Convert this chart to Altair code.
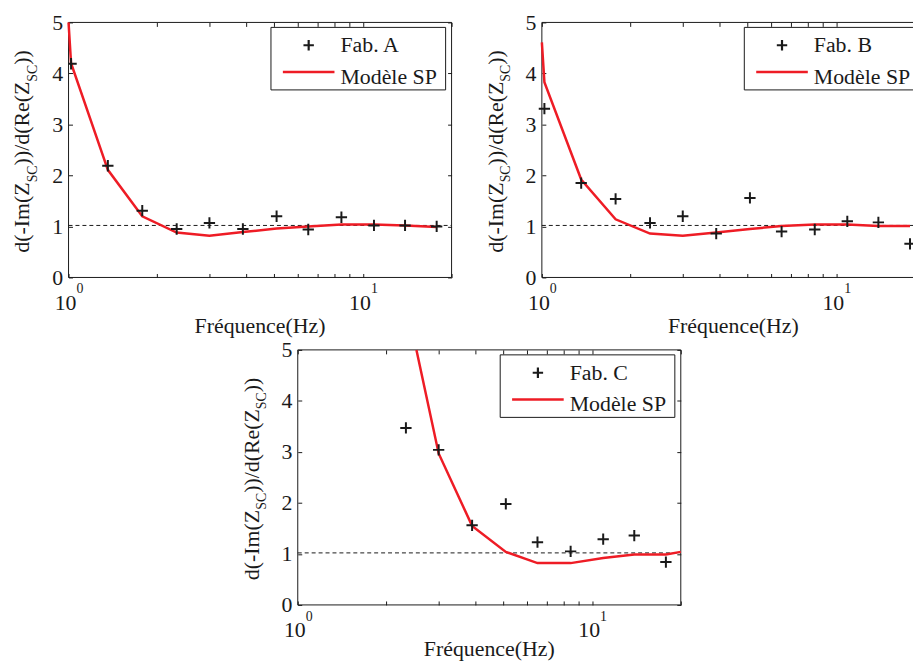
import math
import altair as alt
import pandas as pd

# ---------------- data ----------------
FREQ = [1.02, 1.36, 1.78, 2.33, 3.01, 3.91, 5.09, 6.52, 8.45, 10.9, 13.9, 17.8]

A_MEAS = [4.19, 2.19, 1.31, 0.95, 1.07, 0.95, 1.20, 0.94, 1.18, 1.02, 1.02, 1.00]
A_MODEL_F = [1.0] + FREQ
A_MODEL = [5.0, 4.20, 2.11, 1.20, 0.88, 0.82, 0.89, 0.96, 1.00, 1.04, 1.04, 1.02, 0.99]

B_MEAS = [3.31, 1.85, 1.54, 1.07, 1.20, 0.86, 1.56, 0.90, 0.94, 1.10, 1.08, 0.66]
B_MODEL_F = [1.0] + FREQ
B_MODEL = [4.61, 3.83, 1.92, 1.14, 0.86, 0.82, 0.88, 0.95, 1.01, 1.04, 1.04, 1.01, 1.01]

C_FREQ = FREQ[3:]
C_MEAS = [3.47, 3.04, 1.56, 1.98, 1.23, 1.05, 1.29, 1.36, 0.84]
C_MODEL_F = [2.53] + FREQ[4:] + [20.0]
C_MODEL = [5.0, 2.97, 1.55, 1.04, 0.82, 0.82, 0.92, 0.99, 0.99, 1.04]

REF_LEVEL = 1.02
Y_TICKS = [0, 1, 2, 3, 4, 5]
X_TICKS = [1, 2, 3, 4, 5, 6, 7, 8, 9, 10, 20]
SUP_F = [1, 10]
SUP_T = ["0", "1"]
LEG_MEAS = ["Fab. A", "Fab. B", "Fab. C"]
LEG_MODEL = "Modèle SP"
X_TITLE = "Fréquence(Hz)"

# ---------------- style / layout ----------------
FONT = "Liberation Serif"
INK = "#1a1a1a"
RED = "#ee1c25"
H = 257          # panel plot height
W = 386          # panel plot width
W_B = 374        # right panel is cut by the page edge
WT = 851         # whole drawing area
HT = 587
XMAX = 20.0
DECADE = W / math.log10(XMAX)
XMAX_B = 10 ** (W_B / DECADE)
PLUS = "M-1,0L1,0M0,-1L0,1"
ONE = pd.DataFrame({"k": [0]})


def vtext(txt, x, y, size, angle=None, align="left"):
    kw = dict(align=align, baseline="alphabetic", font=FONT, fontSize=size, color=INK)
    if angle is not None:
        kw["angle"] = angle
    return alt.Chart(ONE).mark_text(**kw).encode(
        x=alt.value(x), y=alt.value(y), text=alt.value(txt))


def hrule(x1, x2, y, color=INK, sw=1):
    return alt.Chart(ONE).mark_rule(color=color, strokeWidth=sw).encode(
        x=alt.value(x1), x2=alt.value(x2), y=alt.value(y))


def vrule(x, y1, y2, color=INK, sw=1):
    return alt.Chart(ONE).mark_rule(color=color, strokeWidth=sw).encode(
        x=alt.value(x), y=alt.value(y1), y2=alt.value(y2))


def ax(orient, values, offset, labels=False, **extra):
    kw = dict(orient=orient, values=values, grid=False, domain=False, ticks=True,
              tickSize=4, tickColor=INK, tickWidth=1, offset=offset, title=None,
              labelFlush=False, labelOverlap=False)
    if labels:
        kw.update(labelFont=FONT, labelFontSize=22, labelColor=INK)
        kw.update(extra)
    else:
        kw["labels"] = False
    return alt.Axis(**kw)


def panel(idx, mf, mv, lf, lv, x0, y0, width, xmax, right=True, xt_off=56):
    xs = alt.Scale(type="log", domain=[1, xmax], nice=False, range=[x0, x0 + width])
    ys = alt.Scale(domain=[0, 5], nice=False, zero=False, range=[y0 + H, y0])
    xt = [v for v in X_TICKS if v <= xmax + 1e-9]
    meas_df = pd.DataFrame({"f": mf, "v": mv})
    model_df = pd.DataFrame({"f": lf, "v": lv})
    sup_df = pd.DataFrame({"f": SUP_F, "t": SUP_T})

    off_left = -(x0 + 4)
    off_right = -(WT - (x0 + width) + 4)
    off_top = -(y0 + 4)
    off_bottom = -(HT - (y0 + H) + 4)

    layers = []
    # frame
    layers += [hrule(x0, x0 + width, y0), hrule(x0, x0 + width, y0 + H), vrule(x0, y0, y0 + H)]
    if right:
        layers.append(vrule(x0 + width, y0, y0 + H))
    # dashed reference level
    layers.append(alt.Chart(ONE).mark_rule(color=INK, strokeWidth=1, strokeDash=[4, 3]).encode(
        x=alt.value(x0), x2=alt.value(x0 + width),
        y=alt.Y(datum=REF_LEVEL, scale=ys, axis=None)))
    # model line (carries top / right axes)
    layers.append(alt.Chart(model_df).mark_line(color=RED, strokeWidth=2.5).encode(
        x=alt.X("f:Q", scale=xs, axis=ax("top", xt, off_top)),
        y=alt.Y("v:Q", scale=ys, axis=ax("right", Y_TICKS, off_right) if right else None)))
    # measurements (carry bottom / left axes)
    layers.append(alt.Chart(meas_df).mark_point(
        shape=PLUS, size=130, filled=False, color=INK, strokeWidth=2, opacity=1, clip=True).encode(
        x=alt.X("f:Q", scale=xs, axis=ax(
            "bottom", xt, off_bottom, labels=True,
            labelExpr="datum.value == 1 || datum.value == 10 ? '10' : ''",
            labelBaseline="alphabetic", labelPadding=32, labelOffset=-3.5)),
        y=alt.Y("v:Q", scale=ys, axis=ax(
            "left", Y_TICKS, off_left, labels=True, labelPadding=6, labelBaseline="middle"))))
    # exponents of the 10^n labels
    layers.append(alt.Chart(sup_df).mark_text(
        align="left", baseline="alphabetic", dx=8, font=FONT, fontSize=14, color=INK).encode(
        x=alt.X("f:Q", scale=xs, axis=None), y=alt.value(y0 + H + 16), text="t:N"))

    # legend
    bx1, bx2, by1, by2 = 204, 380, 5, 68
    bx2c = min(bx2, width)
    layers += [hrule(x0 + bx1, x0 + bx2c, y0 + by1), hrule(x0 + bx1, x0 + bx2c, y0 + by2),
               vrule(x0 + bx1, y0 + by1, y0 + by2)]
    if bx2 <= width:
        layers.append(vrule(x0 + bx2, y0 + by1, y0 + by2))
    layers.append(alt.Chart(ONE).mark_point(
        shape=PLUS, size=110, filled=False, color=INK, strokeWidth=2.2, opacity=1).encode(
        x=alt.value(x0 + 242), y=alt.value(y0 + 23)))
    layers.append(hrule(x0 + 216, x0 + 268, y0 + 50, color=RED, sw=2.5))
    layers.append(vtext(LEG_MEAS[idx], x0 + 274, y0 + 30, 22))
    layers.append(vtext(LEG_MODEL, x0 + 274, y0 + 62, 22))

    # x title
    layers.append(vtext(X_TITLE, x0 + W / 2, y0 + H + xt_off, 22, align="center"))

    # y title with subscripts, read bottom to top
    pieces = [("d(-Im(Z", 22, False, 3.221), ("SC", 14, True, 1.223),
              ("))/d(Re(Z", 22, False, 3.832), ("SC", 14, True, 1.223), ("))", 22, False, 0.666)]
    total = sum(s * w for _, s, _, w in pieces)
    yy = y0 + 130 + total / 2
    for txt, s, sub, wem in pieces:
        layers.append(vtext(txt, x0 + (-32 if sub else -39.5), yy, s, angle=270))
        yy -= s * wem

    return alt.layer(*layers).resolve_axis(x="independent", y="independent")


pA = panel(0, FREQ, A_MEAS, A_MODEL_F, A_MODEL, 0, 0, W, XMAX)
pB = panel(1, FREQ, B_MEAS, B_MODEL_F, B_MODEL, 477, 0, W_B, XMAX_B, right=False)
pC = panel(2, C_FREQ, C_MEAS, C_MODEL_F, C_MODEL, 231, 330, W, XMAX, xt_off=51)

chart = alt.layer(pA, pB, pC).resolve_scale(
    x="independent", y="independent").resolve_axis(
    x="independent", y="independent").properties(
    width=WT, height=HT, background="white",
    autosize=alt.AutoSizeParams(type="none"),
    padding={"left": 61, "top": 12, "right": 0, "bottom": 60},
).configure_view(stroke=None)

chart.save("out.html", embed_options={"renderer": "svg", "actions": False})
